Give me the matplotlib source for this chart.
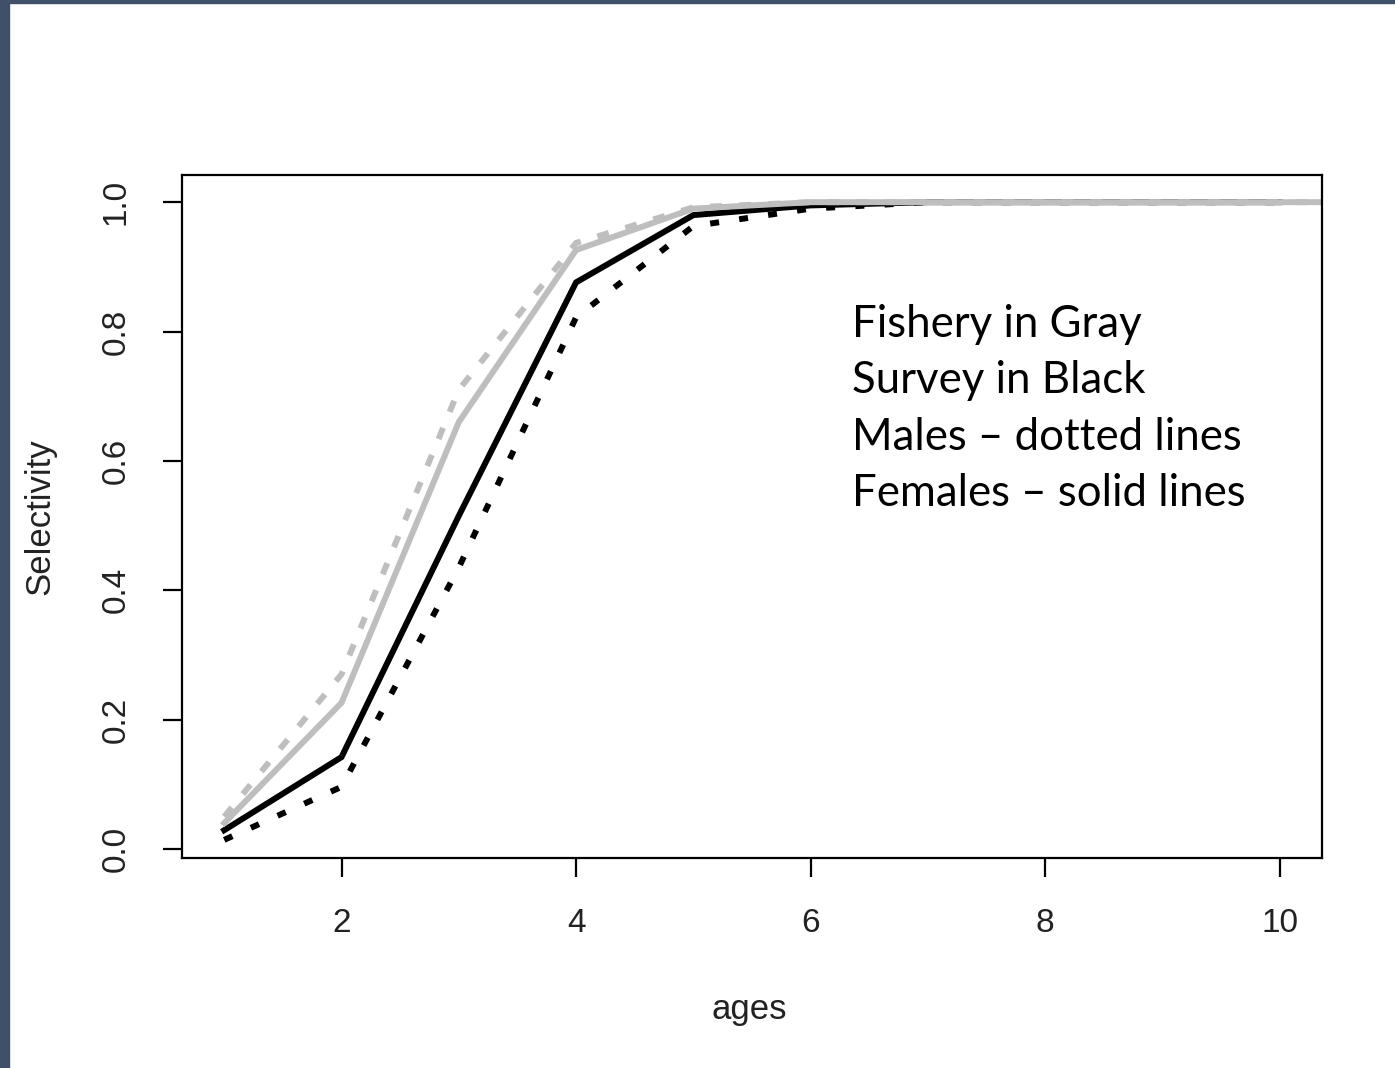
import numpy as np
import matplotlib
matplotlib.use('agg')
import matplotlib.pyplot as plt
from matplotlib.patches import Rectangle

# selectivity at age
survey_ages = [1, 2, 3, 4, 5, 6, 7, 8, 9, 10]
survey_female = [0.029, 0.142, 0.515, 0.876, 0.980, 0.995, 1.0, 1.0, 1.0, 1.0]
survey_male = [0.014, 0.096, 0.435, 0.822, 0.963, 0.990, 1.0, 1.0, 1.0, 1.0]

fishery_ages = [1, 2, 3, 4, 5, 6, 7, 8, 9, 10, 11]
fishery_female = [0.040, 0.226, 0.660, 0.926, 0.990, 1.0, 1.0, 1.0, 1.0, 1.0, 1.0]
fishery_male = [0.050, 0.270, 0.710, 0.937, 0.992, 1.0, 1.0, 1.0, 1.0, 1.0, 1.0]

x_ticks = [2, 4, 6, 8, 10]
y_ticks = [0.0, 0.2, 0.4, 0.6, 0.8, 1.0]

notes = ["Fishery in Gray", "Survey in Black",
         "Males \u2013 dotted lines", "Females \u2013 solid lines"]

gray = "#bebebe"
lw = 4.3

fig = plt.figure(figsize=(13.95, 10.68), dpi=100)
# dark slide border on the left and top
fig.patches.append(Rectangle((0, 0), 9 / 1395, 1, transform=fig.transFigure,
                             color="#3f5068", zorder=0))
fig.patches.append(Rectangle((0, 1 - 3 / 1068), 1, 3 / 1068, transform=fig.transFigure,
                             color="#3f5068", zorder=0))

ax = fig.add_axes([182 / 1395, 1 - 858 / 1068, 1140 / 1395, 683 / 1068])

ax.plot(survey_ages, survey_female, color="black", lw=lw, solid_joinstyle="miter")
ax.plot(survey_ages, survey_male, color="black", lw=lw, dashes=(1.5, 3.4),
        dash_capstyle="butt")
ax.plot(fishery_ages, fishery_female, color=gray, lw=lw, solid_joinstyle="miter")
ax.plot(fishery_ages, fishery_male, color=gray, lw=lw, dashes=(2.0, 2.9),
        dash_capstyle="butt")

ax.set_xlim(0.64, 10.36)
ax.set_ylim(-0.014, 1.042)
ax.set_xticks(x_ticks)
ax.set_yticks(y_ticks)
ax.set_xticklabels([str(t) for t in x_ticks])
ax.set_yticklabels(["%.1f" % t for t in y_ticks], rotation=90, va="center")

for s in ax.spines.values():
    s.set_linewidth(1.6)
ax.tick_params(length=14, width=1.6, labelsize=24)
ax.tick_params(axis="x", pad=22)
ax.tick_params(axis="y", pad=22)
for lab in ax.get_xticklabels() + ax.get_yticklabels():
    lab.set_fontfamily("Liberation Sans")
    lab.set_color("#222222")

ax.set_xlabel("ages", fontsize=25, family="Liberation Sans", color="#222222")
ax.set_ylabel("Selectivity", fontsize=25, family="Liberation Sans", color="#222222")
ax.xaxis.label.set_va("center")
ax.xaxis.set_label_coords(0.498, (858 - 1010) / 683)
ax.yaxis.label.set_rotation_mode("default")
ax.yaxis.label.set_va("center")
ax.yaxis.label.set_ha("center")
ax.yaxis.set_label_coords((40 - 182) / 1140, 0.499)

for i, line in enumerate(notes):
    ax.text(0.5877, 0.763 - i * 0.0827, line, transform=ax.transAxes,
            fontsize=31.5, family="Lato", va="baseline", ha="left")

fig.savefig("out.png", dpi=100)
